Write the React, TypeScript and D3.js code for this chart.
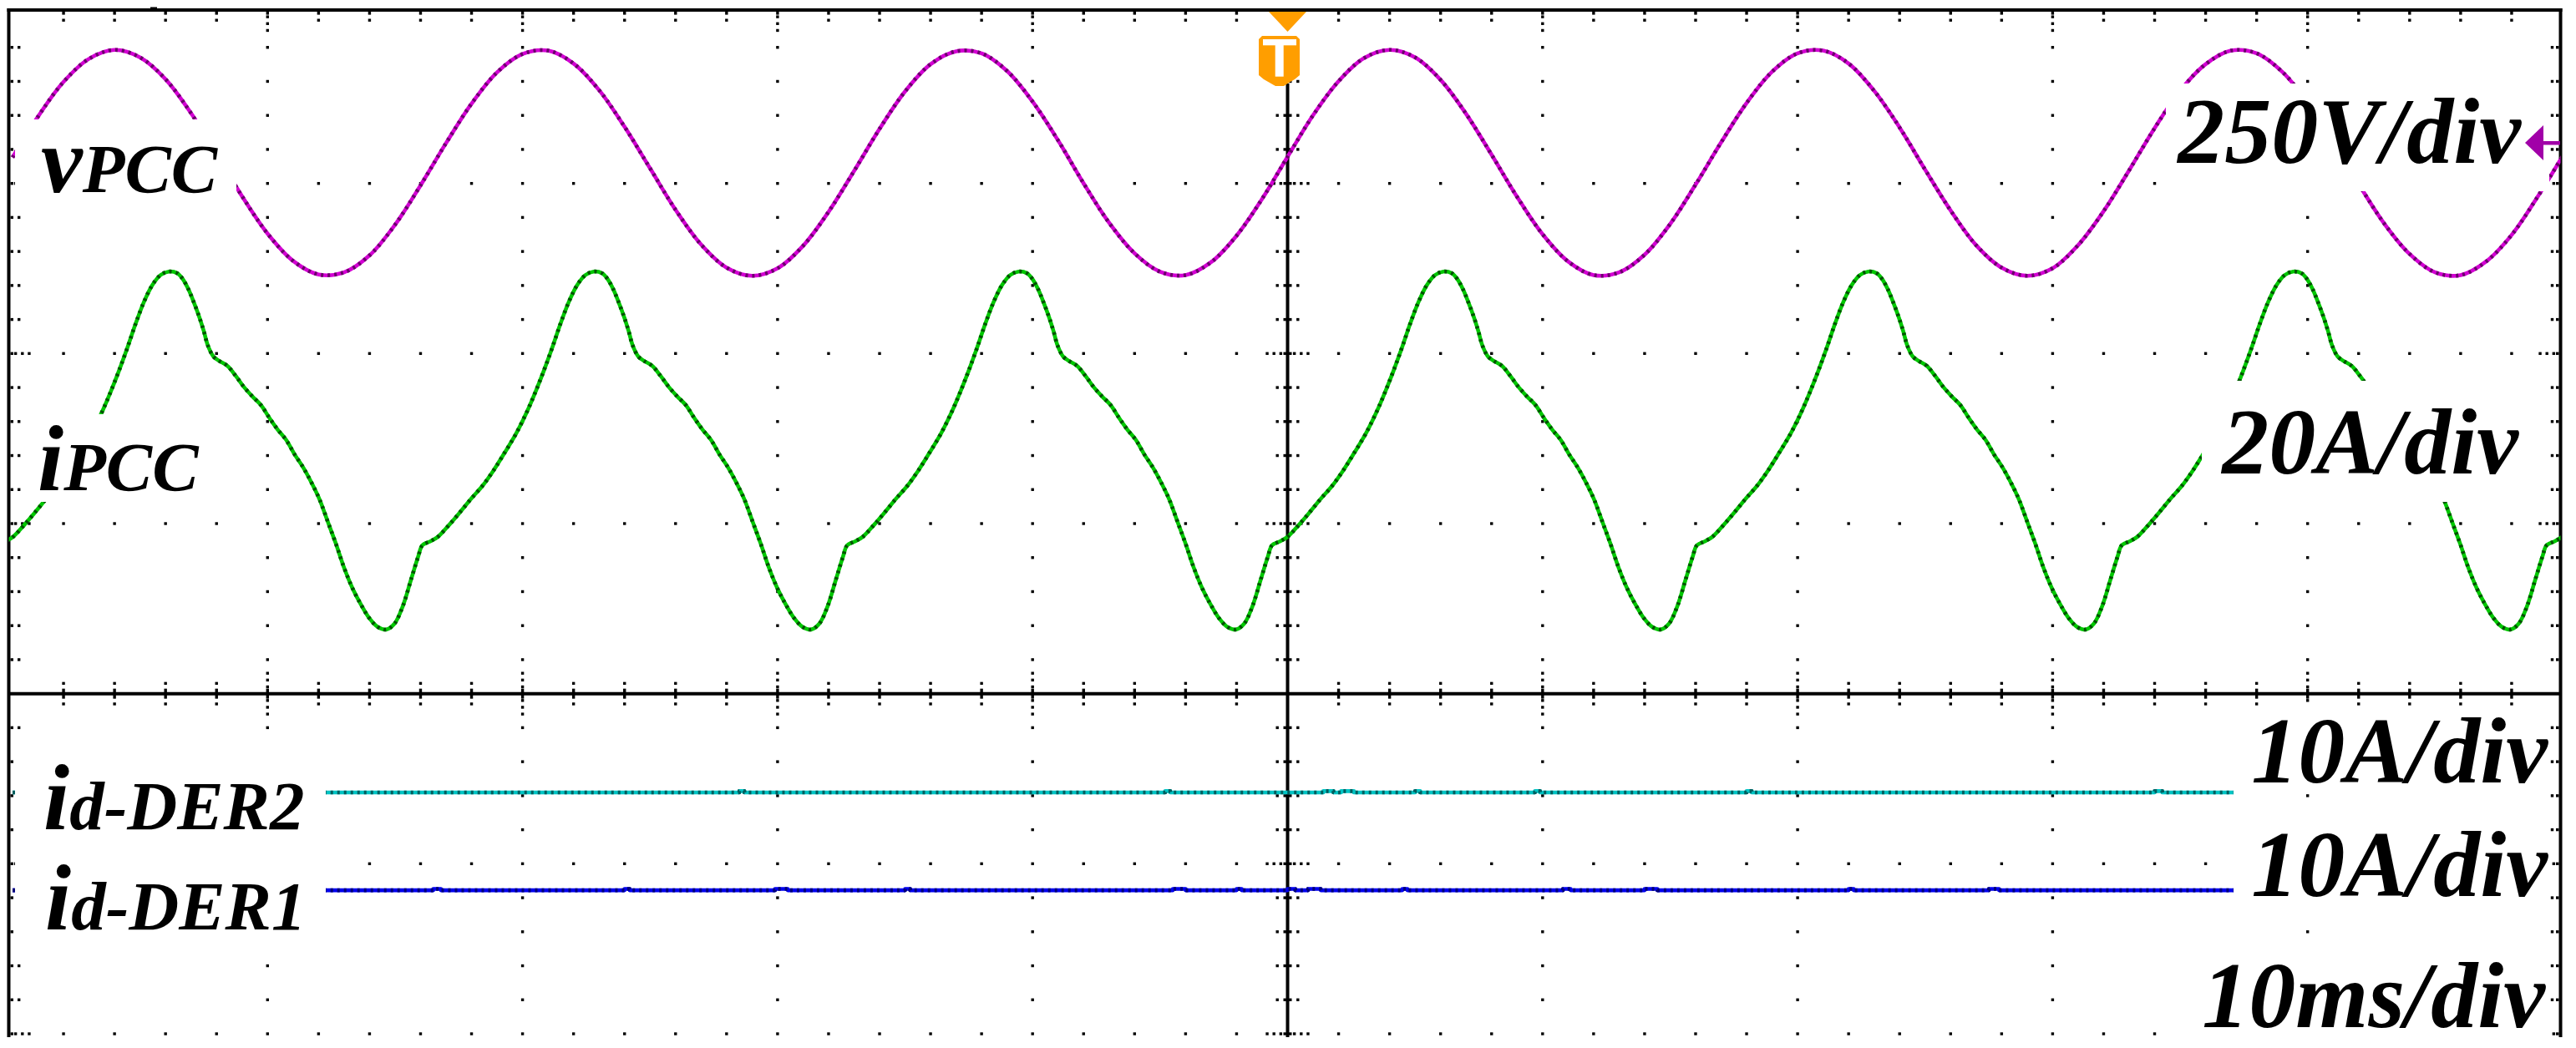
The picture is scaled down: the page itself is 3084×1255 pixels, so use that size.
import React, { useEffect } from "react";
import * as d3 from "d3";

const WIDTH = 3084;
const HEIGHT = 1255;

// ---------- time base / screen ----------
const timeRangeMs: [number, number] = [-50, 50]; // 10 ms/div, 10 divisions, trigger at 0 ms
const minorTimeStepMs = 2; // 5 minor ticks per division
const verticalDivRange: [number, number] = [-3, 3]; // 6 vertical divisions on screen
const minorDivStep = 0.2;

// ---------- channels: vPCC, iPCC, id-DER2, id-DER1 ----------
const channelUnitsPerDiv = [250, 20, 10, 10];
const channelZeroDiv = [2.121, 0.432, -1.581, -2.156];
const channelBaseColor = ["#d400d4", "#00c800", "#00c4c4", "#0000ee"];
const channelDarkColor = ["#6a006a", "#005200", "#005e5e", "#000078"];

// ---------- vPCC samples (V), one per ms starting at -50 ms ----------
const vPccStartMs = -50;
const vPccStepMs = 1;
const vPccVolts = [
  8, 68, 119, 153, 166, 155, 123, 73, 13, -49,
  -104, -144, -164, -161, -136, -91, -33, 29, 87, 133,
  160, 165, 146, 107, 53, -8, -69, -120, -154, -166,
  -155, -122, -72, -12, 50, 105, 145, 164, 161, 135,
  90, 33, -30, -88, -133, -160, -165, -146, -107, -53,
  9, 70, 120, 154, 166, 155, 122, 72, 12, -50,
  -105, -145, -165, -161, -135, -90, -32, 30, 88, 134,
  161, 165, 146, 106, 52, -10, -70, -121, -154, -166,
  -155, -121, -71, -11, 51, 106, 145, 165, 161, 134,
  89, 31, -31, -89, -134, -161, -165, -145, -106, -51,
  10,
];

// ---------- iPCC: one cycle (phase ms, A) ----------
const iPccCyclePhaseMs = [
  0, 0.44, 0.87, 1.31, 1.75, 2.18, 2.62, 3.06, 3.49, 3.82,
  4.15, 4.48, 4.8, 5.13, 5.46, 5.79, 6.11, 6.44, 6.66, 6.88,
  7.1, 7.31, 7.48, 7.64, 7.86, 8.08, 8.41, 8.74, 9.06, 9.39,
  9.72, 10.05, 10.38, 10.71, 11.04, 11.37, 11.7, 12.02, 12.34, 12.66,
  12.99, 13.32, 13.65, 13.98, 14.3, 14.63, 14.96, 15.29, 15.61, 15.89,
  16.05, 16.38,
];
const iPccCycleAmps = [
  -10.2, -8.8, -7.3, -5.7, -4.2, -2.4, -0.3, 1.9, 4.5, 6.8,
  9.3, 12.0, 14.8, 17.4, 19.4, 20.6, 21.0, 20.8, 20.1, 18.9,
  17.3, 15.6, 14.0, 12.3, 11.0, 10.5, 9.9, 8.7, 7.4, 6.3,
  5.3, 3.8, 2.4, 1.2, -0.5, -2.0, -3.8, -5.8, -8.4, -11.0,
  -13.9, -16.3, -18.2, -19.8, -20.8, -21.1, -20.4, -18.3, -15.2, -12.5,
  -11.2, -10.7,
];
// start time of each displayed cycle (ms)
const iPccCycleStartMs = [-66.64, -49.98, -33.32, -16.66, 0, 16.66, 33.32, 49.98];

// ---------- id-DER2 / id-DER1 (A): flat traces with small blips ----------
const iDer2TimeMs = [-50, -38.6, -38.4, -21.5, -21.3, -4.8, -4.6, 1.4, 1.8, 2.1, 2.6, 5.0, 5.2, 9.7, 9.9, 18.0, 18.2, 34.0, 34.3, 50];
const iDer2Amps = [0, 0.08, 0, 0.08, 0, 0.08, 0, 0.08, 0, 0.08, 0, 0.08, 0, 0.08, 0, 0.08, 0, 0.08, 0, 0];
const iDer1TimeMs = [
  -50, -40.2, -40.0, -33.5, -33.2, -26.0, -25.8, -20.1, -19.6, -15.0, -14.8, -4.5, -4.0, -2.0, -1.8, 0.0, 0.3,
  0.8, 1.3, 4.5, 4.7, 10.8, 11.1, 14.0, 14.5, 22.0, 22.2, 27.5, 27.9, 40.0, 40.6, 42.0, 42.5, 50,
];
const iDer1Amps = [
  0, 0.08, 0, 0.08, 0, 0.08, 0, 0.08, 0, 0.08, 0, 0.08, 0, 0.08, 0, 0.08, 0,
  0.08, 0, 0.08, 0, 0.08, 0, 0.08, 0, 0.08, 0, 0.08, 0, 0.08, 0, 0.08, 0, 0,
];

// ---------- labels ----------
type Label = {
  parts: [string, number][];
  x: number;
  y: number;
  anchor: "start" | "end";
  box: [number, number, number, number];
};
const labels: Label[] = [
  { parts: [["v", 112], ["PCC", 83]], x: 49, y: 230, anchor: "start", box: [18, 143, 283, 250] },
  { parts: [["i", 112], ["PCC", 83]], x: 45, y: 587, anchor: "start", box: [25, 496, 250, 601] },
  { parts: [["250V/div", 112]], x: 3018, y: 195, anchor: "end", box: [2593, 100, 3052, 229] },
  { parts: [["20A/div", 112]], x: 3015, y: 567, anchor: "end", box: [2636, 456, 3052, 601] },
  { parts: [["i", 112], ["d-DER2", 83]], x: 52, y: 993, anchor: "start", box: [18, 895, 390, 1015] },
  { parts: [["i", 112], ["d-DER1", 83]], x: 54, y: 1113, anchor: "start", box: [18, 1020, 390, 1135] },
  { parts: [["10A/div", 112]], x: 3050, y: 937, anchor: "end", box: [2674, 845, 3052, 951] },
  { parts: [["10A/div", 112]], x: 3050, y: 1073, anchor: "end", box: [2674, 978, 3052, 1105] },
  { parts: [["10ms/div", 112]], x: 3047, y: 1230, anchor: "end", box: [2600, 1120, 3052, 1255] },
];

const FONT = "'Liberation Serif', 'Times New Roman', Times, serif";

export default function App() {
  useEffect(() => {
    document.body.style.margin = "0";
    document.body.style.overflow = "hidden";
  }, []);

  const xScale = d3.scaleLinear().domain(timeRangeMs).range([15, 3068]);
  const yDiv = d3.scaleLinear().domain(verticalDivRange).range([1238, 16]);
  const chY = (ch: number, v: number) => yDiv(channelZeroDiv[ch] + v / channelUnitsPerDiv[ch]);

  const frameLeft = 10.5;
  const frameRight = 3065.5;
  const frameTop = 12;
  const frameBottom = 1242;
  const centerX = xScale(0);
  const midY = yDiv(-1);
  const fine = 8.15;
  const derTraceEndX = 2674;

  const xs = d3.range(0, 51).map((i) => xScale(timeRangeMs[0] + i * minorTimeStepMs));
  const ys = d3.range(0, 31).map((j) => yDiv(verticalDivRange[1] - j * minorDivStep));

  const marks: { x: number; y: number; w: number; h: number }[] = [];
  const dot = (cx: number, cy: number, s = 3.4) => marks.push({ x: cx - s / 2, y: cy - s / 2, w: s, h: s });
  const bar = (x: number, y: number, w: number, h: number) => marks.push({ x, y, w, h });

  for (let i = 1; i < 50; i++) {
    if (i === 25) continue;
    const x = xs[i];
    const major = i % 5 === 0;
    bar(x - 1.7, 14, 3.4, 3.6);
    if (major) {
      for (let k = 1; k <= 3; k++) dot(x, frameTop + fine * k);
    } else dot(x, 24.2);
    bar(x - 1.7, midY - 6, 3.4, 12);
    if (major) {
      for (let k = 1; k <= 3; k++) {
        dot(x, midY - fine * k);
        dot(x, midY + fine * k);
      }
      for (let j = 1; j <= 30; j++) if (j !== 20) dot(x, ys[j]);
    } else {
      dot(x, midY - 12.3);
      dot(x, midY + 12.3);
    }
  }
  for (let j = 1; j <= 30; j++) {
    if (j === 20) continue;
    const y = ys[j];
    const major = j % 5 === 0;
    bar(frameLeft + 2, y - 1.7, 3.5, 3.4);
    bar(frameRight - 5.5, y - 1.7, 3.5, 3.4);
    bar(centerX - 5, y - 1.7, 10, 3.4);
    if (major) {
      for (let k = 1; k <= 3; k++) {
        dot(frameLeft + fine * k, y);
        dot(frameRight - fine * k, y);
        dot(centerX - fine * k, y);
        dot(centerX + fine * k, y);
      }
      for (let i = 1; i < 50; i++) if (i !== 25 && i % 5 !== 0) dot(xs[i], y);
    } else {
      dot(22.7, y);
      dot(frameRight - 10, y);
      dot(centerX - 12.3, y);
      dot(centerX + 12.3, y);
    }
  }

  const curve = d3.line<[number, number]>().curve(d3.curveCatmullRom.alpha(0.5));
  const stepLine = d3.line<[number, number]>().curve(d3.curveStepAfter);

  const vPts: [number, number][] = vPccVolts.map((v, k) => [xScale(vPccStartMs + k * vPccStepMs), chY(0, v)]);
  const iPts: [number, number][] = iPccCycleStartMs
    .flatMap((s) => iPccCyclePhaseMs.map((p, k) => [s + p, iPccCycleAmps[k]] as [number, number]))
    .filter(([t]) => t >= timeRangeMs[0] - 2 && t <= timeRangeMs[1] + 2)
    .map(([t, a]) => [xScale(t), chY(1, a)]);
  const d2Pts: [number, number][] = iDer2TimeMs.map((t, k) => [xScale(t), chY(2, iDer2Amps[k])]);
  const d1Pts: [number, number][] = iDer1TimeMs.map((t, k) => [xScale(t), chY(3, iDer1Amps[k])]);

  const traces = [
    { d: curve(vPts) as string, ch: 0, clip: "screenClip" },
    { d: curve(iPts) as string, ch: 1, clip: "screenClip" },
    { d: stepLine(d2Pts) as string, ch: 2, clip: "lowerClip" },
    { d: stepLine(d1Pts) as string, ch: 3, clip: "lowerClip" },
  ];

  return (
    <svg
      width={WIDTH}
      height={HEIGHT}
      viewBox={`0 0 ${WIDTH} ${HEIGHT}`}
      style={{ position: "absolute", left: 0, top: 0, display: "block", background: "#fff" }}
    >
      <defs>
        <clipPath id="screenClip">
          <rect x={frameLeft} y={frameTop} width={frameRight - frameLeft} height={frameBottom - frameTop} />
        </clipPath>
        <clipPath id="lowerClip">
          <rect x={frameLeft} y={frameTop} width={derTraceEndX - frameLeft} height={frameBottom - frameTop} />
        </clipPath>
      </defs>
      <rect x={0} y={0} width={WIDTH} height={HEIGHT} fill="#fff" />

      {/* graticule */}
      <g fill="#000">
        {marks.map((m, k) => (
          <rect key={k} x={m.x} y={m.y} width={m.w} height={m.h} />
        ))}
      </g>
      <g stroke="#000" strokeWidth={4} fill="none">
        <line x1={8.5} x2={frameRight + 2} y1={frameTop} y2={frameTop} />
        <line x1={frameLeft} x2={frameLeft} y1={10} y2={frameBottom} />
        <line x1={frameRight} x2={frameRight} y1={10} y2={frameBottom} />
        <line x1={frameLeft} x2={frameRight} y1={midY} y2={midY} />
        <line x1={centerX} x2={centerX} y1={100} y2={frameBottom} />
      </g>
      <rect x={180} y={8.5} width={8} height={3} fill="#000" />

      {/* traces */}
      <g fill="none" strokeLinejoin="round">
        {traces.map((t) => (
          <g key={t.ch} clipPath={`url(#${t.clip})`}>
            <path d={t.d} stroke={channelBaseColor[t.ch]} strokeWidth={4.6} />
            <path d={t.d} stroke={channelDarkColor[t.ch]} strokeWidth={4.6} strokeDasharray="3 5" />
          </g>
        ))}
      </g>

      {/* labels with opaque backgrounds */}
      {labels.map((l, k) => (
        <g key={k}>
          <rect x={l.box[0]} y={l.box[1]} width={l.box[2] - l.box[0]} height={l.box[3] - l.box[1]} fill="#fff" />
          <text
            x={l.x}
            y={l.y}
            textAnchor={l.anchor}
            fontFamily={FONT}
            fontWeight={700}
            fontStyle="italic"
            fill="#000"
          >
            {l.parts.map(([s, fs], q) => (
              <tspan key={q} fontSize={fs}>
                {s}
              </tspan>
            ))}
          </text>
        </g>
      ))}

      {/* trigger marker */}
      <polygon points={`1519,14 1564,14 ${centerX},38`} fill="#ff9e00" />
      <polygon
        points="1511,43 1552,43 1556,47 1556,90 1550,95 1543,99 1537,103 1527,103 1520,99 1513,95 1507,90 1507,47"
        fill="#ff9e00"
      />
      <rect x={1512} y={47} width={40} height={7.3} fill="#fff" />
      <rect x={1526.7} y={54} width={10} height={37.7} fill="#fff" />

      {/* channel 1 reference arrow */}
      <polygon points="3023,171 3045,150 3045,192" fill="#a100a8" />
      <rect x={3045} y={169} width={20} height={4.5} fill="#a100a8" />
    </svg>
  );
}
